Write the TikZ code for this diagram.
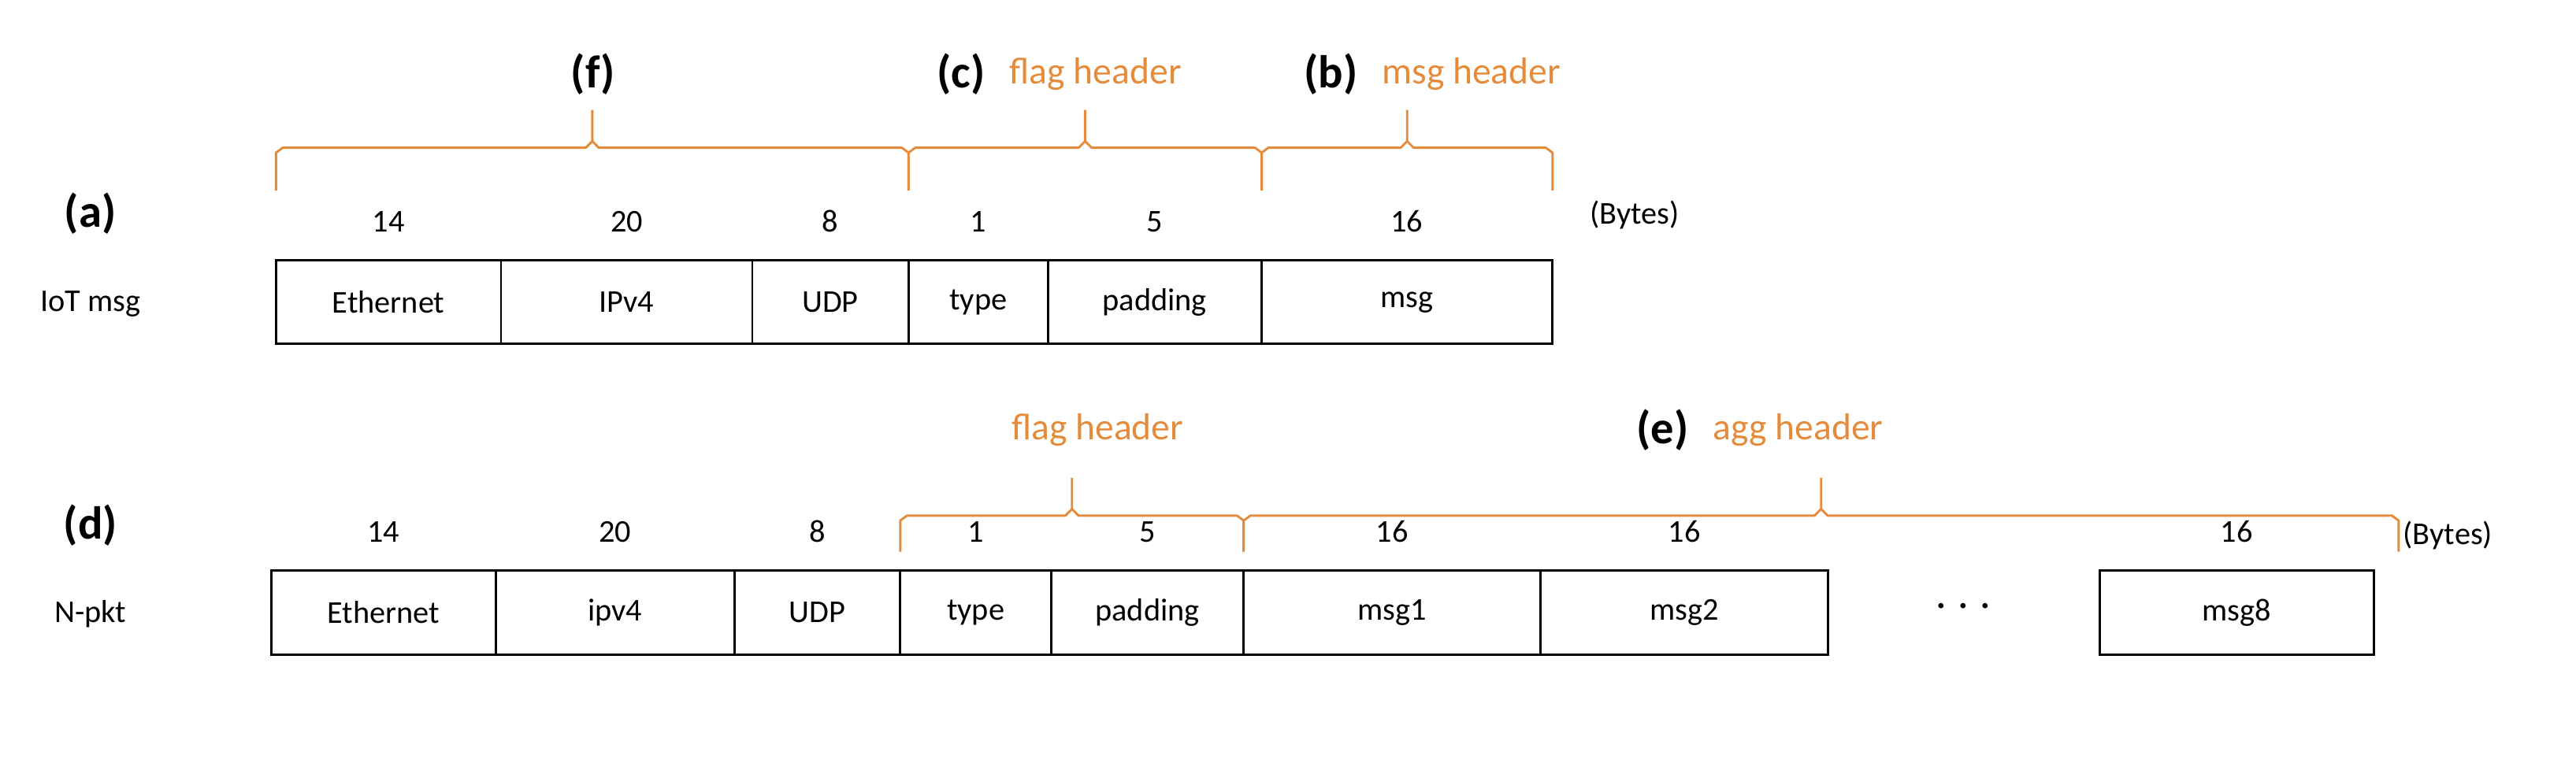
\documentclass[tikz,border=0pt]{standalone}
\usepackage{fontspec}
\setmainfont{Carlito}
\usetikzlibrary{positioning}
\definecolor{hdr}{RGB}{228,140,60}
% header brace: left x, right x, foot y, bar y, tip y
\newcommand{\hdrbrace}[5]{%
  \draw [brc] (#1,#3) -- (#1,#4+3) -- (#1+4,#4) -- ({(#1+#2)/2-4},#4) -- ({(#1+#2)/2},#4-4) -- ({(#1+#2)/2},#5);
  \draw [brc] ({(#1+#2)/2},#4-4) -- ({(#1+#2)/2+4},#4) -- (#2-4,#4) -- (#2,#4+3) -- (#2,#3);}
\begin{document}
\begin{tikzpicture}[x=0.02cm, y=-0.02cm, node distance = 0cm, font=\fontsize{11}{13}\selectfont]
  \tikzstyle{field} = [rectangle, draw, thick, minimum height=1.02cm, inner sep=0pt, outer sep=0pt, anchor=west]
  \tikzstyle{num} = [above=0.22cm]
  \tikzstyle{tag} = [font=\fontsize{16}{18}\selectfont\bfseries]
  \tikzstyle{hname} = [text=hdr, font=\fontsize{13}{15}\selectfont]
  \tikzstyle{brc} = [draw=hdr, thick, line join=round]
  \useasboundingbox (0,0) rectangle (1568,471);
  % IoT message
  \node [tag] (a) at (55,130) {(a)};
  \node (iot) at (55,185) {IoT msg};
  \node [field, minimum width=2.74cm] (eth) at (168,184) {Ethernet};
  \node [field, minimum width=3.06cm, right=of eth] (ip) {IPv4};
  \node [field, minimum width=1.9cm, right=of ip] (udp) {UDP};
  \node [field, minimum width=1.7cm, right=of udp] (type) {type};
  \node [field, minimum width=2.6cm, right=of type] (pad) {padding};
  \node [field, minimum width=3.54cm, right=of pad] (msg) {msg};
  \foreach \b/\n in {eth/14, ip/20, udp/8, type/1, pad/5, msg/16}
    \node [num] at (\b.north) {\n};
  \node (bytes) at (995,131) {(Bytes)};
  \hdrbrace{168}{553}{116}{90}{67}
  \hdrbrace{553}{768}{116}{90}{67}
  \hdrbrace{768}{945}{116}{90}{67}
  \node [tag] (f) at (361,45) {(f)};
  \node [tag] (c) at (585,45) {(c)};
  \node [hname, right=0.05cm of c] (cflag) {flag header};
  \node [tag] (b) at (810,45) {(b)};
  \node [hname, right=0.05cm of b] (bmsg) {msg header};
  % N-pkt
  \node [tag] (d) at (55,320) {(d)};
  \node (npkt) at (55,374) {N-pkt};
  \node [field, minimum width=2.74cm] (neth) at (165,373) {Ethernet};
  \node [field, minimum width=2.9cm, right=of neth] (nip) {ipv4};
  \node [field, minimum width=2.02cm, right=of nip] (nudp) {UDP};
  \node [field, minimum width=1.84cm, right=of nudp] (ntype) {type};
  \node [field, minimum width=2.34cm, right=of ntype] (npad) {padding};
  \node [field, minimum width=3.62cm, right=of npad] (m1) {msg1};
  \node [field, minimum width=3.5cm, right=of m1] (m2) {msg2};
  \node [field, minimum width=3.34cm] (m8) at (1278,373) {msg8};
  \node [font=\fontsize{16}{18}\selectfont\bfseries] (dots) at (1195,370) {$\cdots$};
  \foreach \b/\n in {neth/14, nip/20, nudp/8, ntype/1, npad/5, m1/16, m2/16, m8/16}
    \node [num] at (\b.north) {\n};
  \node (nbytes) at (1490,326) {(Bytes)};
  \hdrbrace{548}{757}{336}{314}{291}
  \hdrbrace{757}{1460}{336}{314}{291}
  \node [hname] (nflag) at (668,262) {flag header};
  \node [tag] (e) at (1012,262) {(e)};
  \node [hname, right=0.05cm of e] (eagg) {agg header};
\end{tikzpicture}
\end{document}
